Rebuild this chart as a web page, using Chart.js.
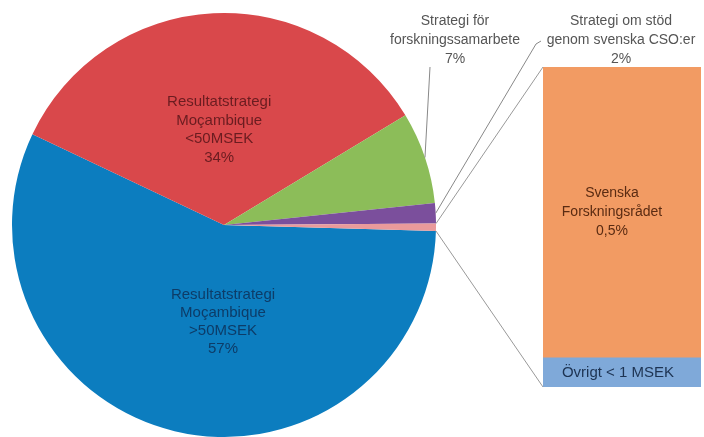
<!DOCTYPE html>
<html>
<head>
<meta charset="utf-8">
<script src="https://cdn.jsdelivr.net/npm/chart.js@4.4.1/dist/chart.umd.min.js"></script>
<style>
  html, body { margin: 0; padding: 0; background: #fff; }
  #wrap { position: relative; width: 704px; height: 437px; }
  #wrap canvas { position: absolute; left: 0; top: 0; }
</style>
</head>
<body>
<div id="wrap">
  <canvas id="pie" width="704" height="437"></canvas>
  <canvas id="bar" width="704" height="437"></canvas>
</div>
<script>
// Data (share of total, %)
const pieNames = [
  'Resultatstrategi Moçambique >50MSEK',
  'Resultatstrategi Moçambique <50MSEK',
  'Strategi för forskningssamarbete',
  'Strategi om stöd genom svenska CSO:er',
  'Svenska Forskningsrådet + övrigt'
];
const pieValues = [56.6, 34.3, 7.0, 1.55, 0.55];
const pieLabelLines = [
  ['Resultatstrategi', 'Moçambique', '>50MSEK', '57%'],
  ['Resultatstrategi', 'Moçambique', '<50MSEK', '34%'],
  ['Strategi för', 'forskningssamarbete', '7%'],
  ['Strategi om stöd', 'genom svenska CSO:er', '2%'],
  []
];

const barCategories = ['Svenska Forskningsrådet + övrigt'];
const barNames = ['Övrigt < 1 MSEK', 'Svenska Forskningsrådet'];
const barValues = [0.05, 0.5];
const barLabelLines = [['Övrigt < 1 MSEK'], ['Svenska', 'Forskningsrådet', '0,5%']];

const pieColors = ['#0c7dbf', '#d9484b', '#8cbd59', '#7b4f9c', '#e99a9b'];
const barColors = ['#7fa9d9', '#f29b63'];

const FONT = '"Liberation Sans", Arial, sans-serif';

function polar(arc, ang, r) {
  return { x: arc.x + Math.cos(ang) * r, y: arc.y + Math.sin(ang) * r };
}
function drawLines(ctx, lines, x, y, lh) {
  const top = y - (lines.length - 1) * lh / 2;
  lines.forEach((t, i) => ctx.fillText(t, x, top + i * lh));
}

// Pie labels
const pieLabelPlugin = {
  id: 'pieLabels',
  afterDatasetsDraw(chart) {
    const ctx = chart.ctx;
    const arcs = chart.getDatasetMeta(0).data;
    ctx.save();
    ctx.textAlign = 'center';
    ctx.textBaseline = 'middle';

    // inside labels
    ctx.font = '15px ' + FONT;
    const blue = arcs[0];
    ctx.fillStyle = '#0d3c68';
    drawLines(ctx, pieLabelLines[0], blue.x - 1, blue.y + blue.outerRadius * 0.455, 18);

    const red = arcs[1];
    const redMid = (red.startAngle + red.endAngle) / 2;
    const rp = polar(red, redMid, red.outerRadius * 0.45);
    ctx.fillStyle = '#6a1c20';
    drawLines(ctx, pieLabelLines[1], rp.x, rp.y, 18.5);

    // outside labels with leader lines
    ctx.font = '14px ' + FONT;
    ctx.fillStyle = '#555';
    ctx.strokeStyle = '#888';
    ctx.lineWidth = 1;

    const green = arcs[2];
    const gp = polar(green, (green.startAngle + green.endAngle) / 2, green.outerRadius);
    drawLines(ctx, pieLabelLines[2], 455, 40, 19);
    ctx.beginPath();
    ctx.moveTo(gp.x, gp.y);
    ctx.lineTo(430, 67);
    ctx.stroke();

    const purple = arcs[3];
    const pp = polar(purple, (purple.startAngle + purple.endAngle) / 2, purple.outerRadius);
    drawLines(ctx, pieLabelLines[3], 621, 40, 19);
    ctx.beginPath();
    ctx.moveTo(pp.x, pp.y);
    ctx.lineTo(536, 44);
    ctx.lineTo(541, 41);
    ctx.stroke();

    ctx.restore();
  }
};

const pieChart = new Chart(document.getElementById('pie'), {
  type: 'pie',
  data: {
    labels: pieNames,
    datasets: [{
      data: pieValues,
      backgroundColor: pieColors,
      borderWidth: 0
    }]
  },
  options: {
    responsive: false,
    animation: false,
    rotation: 91.6,
    layout: { padding: { left: 12, top: 13, right: 268, bottom: 0 } },
    plugins: { legend: { display: false }, tooltip: { enabled: false } }
  },
  plugins: [pieLabelPlugin]
});

// Connector lines and bar labels
const barLabelPlugin = {
  id: 'barLabels',
  afterDatasetsDraw(chart) {
    const ctx = chart.ctx;
    const low = chart.getDatasetMeta(0).data[0];
    const high = chart.getDatasetMeta(1).data[0];
    const pink = pieChart.getDatasetMeta(0).data[4];
    const left = high.x - high.width / 2;

    ctx.save();
    ctx.strokeStyle = '#999';
    ctx.lineWidth = 1;
    const p1 = polar(pink, pink.startAngle, pink.outerRadius);
    const p2 = polar(pink, pink.endAngle, pink.outerRadius);
    ctx.beginPath();
    ctx.moveTo(p1.x, p1.y);
    ctx.lineTo(left, high.y);
    ctx.moveTo(p2.x, p2.y);
    ctx.lineTo(left, low.base);
    ctx.stroke();

    ctx.textAlign = 'center';
    ctx.textBaseline = 'middle';
    ctx.font = '14px ' + FONT;
    ctx.fillStyle = '#5a2b12';
    drawLines(ctx, barLabelLines[1], high.x - 10, (high.y + high.base) / 2, 19);
    ctx.font = '15px ' + FONT;
    ctx.fillStyle = '#1d3352';
    drawLines(ctx, barLabelLines[0], low.x - 4, (low.y + low.base) / 2, 18);
    ctx.restore();
  }
};

new Chart(document.getElementById('bar'), {
  type: 'bar',
  data: {
    labels: barCategories,
    datasets: barValues.map((v, i) => ({
      label: barNames[i],
      data: [v],
      backgroundColor: barColors[i],
      borderWidth: 0,
      barPercentage: 1,
      categoryPercentage: 1
    }))
  },
  options: {
    responsive: false,
    animation: false,
    layout: { padding: { left: 543, right: 3, top: 67, bottom: 50 } },
    scales: {
      x: { stacked: true, display: false },
      y: { stacked: true, display: false, min: 0, max: 0.55 }
    },
    plugins: { legend: { display: false }, tooltip: { enabled: false } }
  },
  plugins: [barLabelPlugin]
});
</script>
</body>
</html>
